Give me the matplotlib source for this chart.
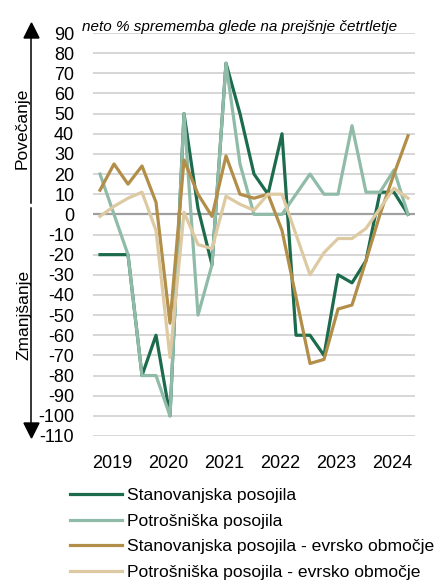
#!/usr/bin/env python3
# -*- coding: utf-8 -*-

# Import packages
import matplotlib
matplotlib.use("Agg")
import matplotlib.pyplot as plt
from matplotlib.lines import Line2D
from matplotlib.patches import Polygon

plt.rcParams["font.family"] = ["Liberation Sans", "DejaVu Sans"]
plt.rcParams["axes.unicode_minus"] = False

# DATA (quarterly, 2019 Q1 onwards)
quarters = list(range(23))
years = ["2019", "2020", "2021", "2022", "2023", "2024"]
year_pos = [0.85, 4.85, 8.85, 12.85, 16.85, 20.85]

housing_si = [-20, -20, -20, -80, -60, -100, 50, 3, -25, 75, 50, 20, 10, 40,
              -60, -60, -70, -30, -34, -23, 11, 11, 0]
consumer_si = [20, 0, -20, -80, -80, -100, 50, -50, -25, 75, 25, 0, 0, 0,
               10, 20, 10, 10, 44, 11, 11, 22, 0]
housing_ea = [12, 25, 15, 24, 6, -54, 27, 10, -1, 29, 10, 8, 10, -8,
              -41, -74, -72, -47, -45, -23, 0, 20, 39]
consumer_ea = [-1, 4, 8, 11, -8, -71, 1, -15, -17, 9, 5, 2, 10, 10,
               -10, -30, -19, -12, -12, -7, 3, 13, 8]

series = [
    (housing_si, "Stanovanjska posojila", "#1c6b4d"),
    (consumer_si, "Potrošniška posojila", "#8fbba8"),
    (housing_ea, "Stanovanjska posojila - evrsko območje", "#b28e49"),
    (consumer_ea, "Potrošniška posojila - evrsko območje", "#ddcaa2"),
]

W, H = 437, 585


def px(x, y):
    """Convert figure pixel position (from top-left) to figure fraction."""
    return (x / W, 1 - y / H)


fig = plt.figure(figsize=(W / 100, H / 100), dpi=100)
ax = fig.add_axes([93 / W, 1 - 436 / H, (415 - 93) / W, (436 - 33) / H])

for y in range(-110, 91, 10):
    if y == 0:
        ax.axhline(y, color="#a0a0a0", lw=1.6, zorder=1)
    else:
        ax.axhline(y, color="#cccccc", lw=1.1, zorder=1)

for values, label, color in series:
    ax.plot(quarters, values, color=color, lw=2.3, label=label, zorder=3)

ax.set_xlim(-0.5, 22.5)
ax.set_ylim(-110, 90)
ax.set_yticks(range(-110, 91, 10))
ax.set_xticks(year_pos)
ax.set_xticklabels(years)
ax.tick_params(axis="both", length=0, labelsize=13)
ax.tick_params(axis="y", pad=13.5)
ax.tick_params(axis="x", pad=14)
for spine in ax.spines.values():
    spine.set_visible(False)

# Title
fig.text(*px(82, 31), "neto % sprememba glede na prejšnje četrtletje",
         fontsize=11, style="italic", ha="left", va="baseline")

# Direction arrows on the left
fig.add_artist(Line2D(*zip(px(31, 37), px(31, 203)), color="black", lw=1.1))
fig.add_artist(Line2D(*zip(px(31, 208), px(31, 424)), color="black", lw=1.1))
fig.add_artist(Polygon([px(24, 38), px(39, 38), px(31.5, 23)], closed=True,
                       color="black"))
fig.add_artist(Polygon([px(24, 423), px(39, 423), px(31.5, 438)], closed=True,
                       color="black"))
fig.text(*px(22, 128), "Povečanje", rotation=90, fontsize=12.5,
         ha="center", va="center")
fig.text(*px(24, 315), "Zmanjšanje", rotation=90, fontsize=12.5,
         ha="center", va="center")

# Legend
fig.legend(loc="upper left", bbox_to_anchor=px(70, 488), frameon=False,
           fontsize=12.6, handlelength=2.97, handletextpad=0.29,
           labelspacing=0.59, borderaxespad=0, borderpad=0)

fig.savefig("out.png", dpi=100)
plt.close(fig)
